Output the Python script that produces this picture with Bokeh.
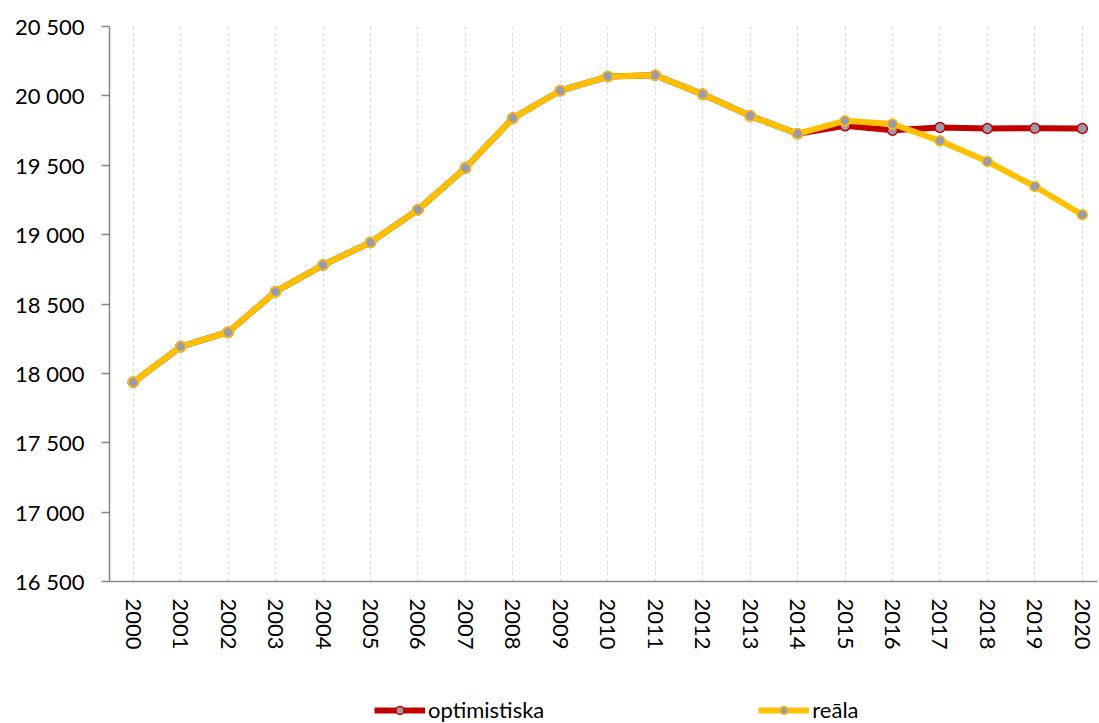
from bokeh.plotting import figure
from bokeh.models import Range1d, FixedTicker, Legend, LegendItem
from bokeh.layouts import column
from bokeh.embed import file_html
from bokeh.resources import INLINE

years = list(range(2000, 2021))
optimistiska = [17936, 18192, 18297, 18589, 18781, 18944, 19179, 19480, 19840, 20037, 20139,
                20149, 20011, 19856, 19727, 19784, 19752, 19772, 19765, 19767, 19765]
reala = [17936, 18192, 18297, 18589, 18781, 18944, 19179, 19480, 19840, 20037, 20139,
         20149, 20011, 19856, 19727, 19820, 19797, 19676, 19527, 19347, 19143]
y_ticks = [16500, 17000, 17500, 18000, 18500, 19000, 19500, 20000, 20500]
y_tick_labels = ["16 500", "17 000", "17 500", "18 000", "18 500", "19 000", "19 500", "20 000", "20 500"]
series_names = ["optimistiska", "reāla"]

FONT = "Lato"
RED = "#C00000"
YELLOW = "#FFC000"
MARK = "#9A9AAA"

p = figure(width=1099, height=680, output_backend="svg", toolbar_location=None,
           x_range=Range1d(1999.5, 2020.32), y_range=Range1d(16500, 20500),
           min_border_left=109, min_border_right=2, min_border_top=26, min_border_bottom=99)
p.outline_line_color = None
p.background_fill_color = "white"

# axes
p.yaxis.ticker = FixedTicker(ticks=y_ticks)
p.yaxis.major_label_overrides = {t: s for t, s in zip(y_ticks, y_tick_labels)}
p.yaxis.minor_tick_line_color = None
p.yaxis.major_tick_out = 8
p.yaxis.major_tick_in = 0
p.yaxis.major_label_standoff = 17
p.yaxis.axis_line_color = "#868686"
p.yaxis.axis_line_width = 1.5
p.yaxis.major_tick_line_color = "#868686"
p.yaxis.major_tick_line_width = 1.5
p.yaxis.major_label_text_font = FONT
p.yaxis.major_label_text_font_size = "22px"
p.yaxis.major_label_text_color = "#000000"

p.xaxis.ticker = FixedTicker(ticks=years)
p.xaxis.major_label_overrides = {y: str(y) for y in years}
p.xaxis.minor_tick_line_color = None
p.xaxis.major_tick_line_color = None
p.xaxis.major_tick_out = 0
p.xaxis.major_tick_in = 0
p.xaxis.major_label_standoff = 17
p.xaxis.major_label_orientation = -1.5707963
p.xaxis.axis_line_color = "#868686"
p.xaxis.axis_line_width = 1.5
p.xaxis.major_label_text_font = FONT
p.xaxis.major_label_text_font_size = "22px"
p.xaxis.major_label_text_color = "#000000"

p.ygrid.grid_line_color = None
p.xgrid.grid_line_color = "#D9D9D9"
p.xgrid.grid_line_dash = "3 3"
p.xgrid.grid_line_width = 1

# series
p.line(years, optimistiska, line_color=RED, line_width=6)
p.scatter(years, optimistiska, size=10, fill_color=MARK, line_color=RED, line_width=1.5)
p.line(years, reala, line_color=YELLOW, line_width=6)
p.scatter(years, reala, size=10, fill_color=MARK, line_color=YELLOW, line_width=1.5)

# legend strip below the chart
q = figure(width=1099, height=43, output_backend="svg", toolbar_location=None,
           x_range=Range1d(0, 1), y_range=Range1d(0, 1),
           min_border_left=0, min_border_right=0, min_border_top=0, min_border_bottom=0)
q.axis.visible = False
q.grid.grid_line_color = None
q.outline_line_color = None
l1 = q.line([-5, -4], [-5, -4], line_color=RED, line_width=6)
m1 = q.scatter([-5], [-5], size=10, fill_color=MARK, line_color=RED, line_width=1.5)
l2 = q.line([-5, -4], [-5, -4], line_color=YELLOW, line_width=6)
m2 = q.scatter([-5], [-5], size=10, fill_color=MARK, line_color=YELLOW, line_width=1.5)

legend = Legend(items=[LegendItem(label=series_names[0], renderers=[l1, m1]),
                       LegendItem(label=series_names[1], renderers=[l2, m2])],
                orientation="horizontal", location=(265, 0),
                glyph_width=51, glyph_height=20, label_standoff=3, spacing=214,
                padding=0, margin=0, border_line_color=None, background_fill_alpha=0,
                label_text_font=FONT, label_text_font_size="22px", label_text_color="#000000")
q.add_layout(legend, "center")

layout = column(p, q, spacing=0)
open("out.html", "w").write(file_html(layout, INLINE))
